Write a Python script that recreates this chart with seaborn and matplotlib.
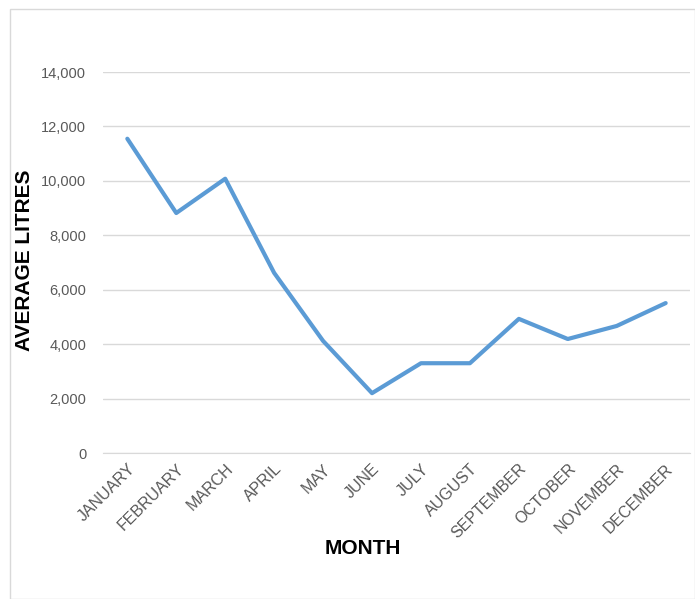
import numpy as np
import pandas as pd
import matplotlib.pyplot as plt
import seaborn as sns
from matplotlib.patches import Rectangle

# --- data ---
months = ['JANUARY', 'FEBRUARY', 'MARCH', 'APRIL', 'MAY', 'JUNE', 'JULY',
          'AUGUST', 'SEPTEMBER', 'OCTOBER', 'NOVEMBER', 'DECEMBER']
avg_litres = [11550, 8820, 10080, 6620, 4120, 2200, 3300, 3300, 4930, 4190, 4670, 5510]
y_ticks = [0, 2000, 4000, 6000, 8000, 10000, 12000, 14000]

df = pd.DataFrame({'Month': months, 'Litres': avg_litres})

sns.set_style('white')
plt.rcParams['font.family'] = ['Liberation Sans', 'DejaVu Sans']

fig = plt.figure(figsize=(6.95, 5.99), dpi=100)
ax = fig.add_axes([0.148, 0.2437, 0.845, 0.636])

# light frame round the chart area
fig.patches.append(Rectangle((0.014, 0.0), 0.986, 0.985, transform=fig.transFigure,
                             fill=False, edgecolor='#D9D9D9', linewidth=1))

sns.lineplot(data=df, x='Month', y='Litres', ax=ax, color='#5B9BD5',
             linewidth=3, sort=False)

ax.set_xlim(-0.5, len(months) - 0.5)
ax.set_ylim(0, 14000)
ax.set_yticks(y_ticks)
ax.set_yticklabels([f'{v:,}' for v in y_ticks], color='#595959', fontsize=10.5)
ax.set_xticks(range(len(months)))
ax.set_xticklabels(months, rotation=45, ha='right', rotation_mode='anchor',
                   color='#595959', fontsize=11.5)
ax.tick_params(axis='both', length=0)
ax.tick_params(axis='y', pad=12)
ax.tick_params(axis='x', pad=6)

ax.grid(axis='y', color='#D9D9D9', linewidth=1)
ax.set_axisbelow(True)
for side in ['top', 'right', 'left']:
    ax.spines[side].set_visible(False)
ax.spines['bottom'].set_color('#D9D9D9')

ax.set_xlabel('')
ax.set_ylabel('')
fig.text(25 / 695, 1 - 260 / 599, 'AVERAGE LITRES', rotation=90, ha='center', va='center',
         fontsize=15, fontweight='bold', color='black')
fig.text(363 / 695, 1 - 548 / 599, 'MONTH', ha='center', va='center',
         fontsize=15, fontweight='bold', color='black')

fig.savefig('out.png', dpi=100)
